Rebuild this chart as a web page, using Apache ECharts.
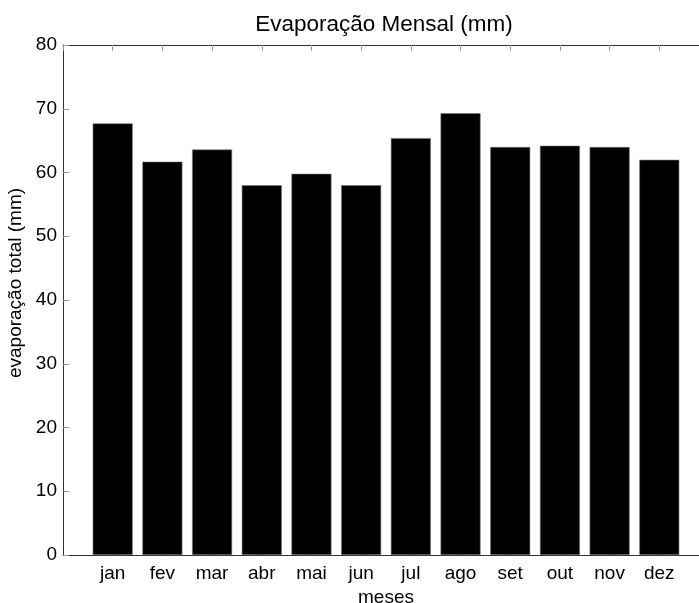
<!DOCTYPE html>
<html>
<head>
<meta charset="utf-8">
<script src="https://cdn.jsdelivr.net/npm/echarts@6/dist/echarts.min.js"></script>
<style>
html, body { margin: 0; padding: 0; background: #fff; }
#chart { width: 699px; height: 603px; }
</style>
</head>
<body>
<div id="chart"></div>
<script>
// Monthly total evaporation (mm)
const months = ['jan', 'fev', 'mar', 'abr', 'mai', 'jun', 'jul', 'ago', 'set', 'out', 'nov', 'dez'];
const evaporation = [67.7, 61.7, 63.6, 58.0, 59.8, 58.0, 65.4, 69.3, 64.0, 64.2, 64.0, 62.0];
const yTicks = [0, 10, 20, 30, 40, 50, 60, 70, 80];

const FONT = 'Liberation Sans, Arial, sans-serif';
const AXIS_COLOR = '#333';

const chart = echarts.init(document.getElementById('chart'));

// Bars sit at x = 1..12 on a 0..13 value axis; the frame runs past
// the right edge of the canvas
const barData = months.map((m, i) => [i + 1, evaporation[i]]);

const monthLabel = v => (Number.isInteger(v) && v >= 1 && v <= 12 ? months[v - 1] : '');

chart.setOption({
  animation: false,
  backgroundColor: '#fff',
  title: {
    text: 'Evaporação Mensal (mm)',
    left: 379,
    top: 8,
    textAlign: 'center',
    textStyle: { fontFamily: FONT, fontSize: 22.5, fontWeight: 'normal', color: '#000' }
  },
  grid: { left: 63, top: 45, width: 646, height: 510, outerBoundsMode: 'none', containLabel: false },
  xAxis: [
    {
      type: 'value',
      min: 0,
      max: 13,
      interval: 1,
      position: 'bottom',
      name: 'meses',
      nameLocation: 'middle',
      nameGap: 31,
      nameTextStyle: { fontFamily: FONT, fontSize: 19, color: '#000' },
      axisLine: { show: true, lineStyle: { color: AXIS_COLOR, width: 1 } },
      axisTick: { show: true, inside: true, length: 6, lineStyle: { color: AXIS_COLOR } },
      axisLabel: {
        fontFamily: FONT, fontSize: 19, color: '#000', margin: 9,
        formatter: monthLabel
      },
      splitLine: { show: false }
    },
    {
      type: 'value',
      min: 0,
      max: 13,
      interval: 1,
      position: 'top',
      axisLine: { show: true, lineStyle: { color: AXIS_COLOR, width: 1 } },
      axisTick: { show: true, inside: true, length: 6, lineStyle: { color: '#999' } },
      axisLabel: { show: false },
      splitLine: { show: false }
    }
  ],
  yAxis: {
    type: 'value',
    min: yTicks[0],
    max: yTicks[yTicks.length - 1],
    interval: 10,
    name: 'evaporação total (mm)',
    nameLocation: 'middle',
    nameGap: 29,
    nameTextStyle: { fontFamily: FONT, fontSize: 19, color: '#000', padding: [0, 0, 0, 34] },
    axisLine: { show: true, lineStyle: { color: AXIS_COLOR, width: 1 } },
    axisTick: { show: true, inside: true, length: 6, lineStyle: { color: '#999' } },
    axisLabel: { fontFamily: FONT, fontSize: 19, color: '#000', margin: 6 },
    splitLine: { show: false }
  },
  series: [
    {
      type: 'bar',
      xAxisIndex: 0,
      data: barData,
      barWidth: 40,
      itemStyle: { color: '#000', borderColor: '#777', borderWidth: 0.6 }
    }
  ]
});
</script>
</body>
</html>
